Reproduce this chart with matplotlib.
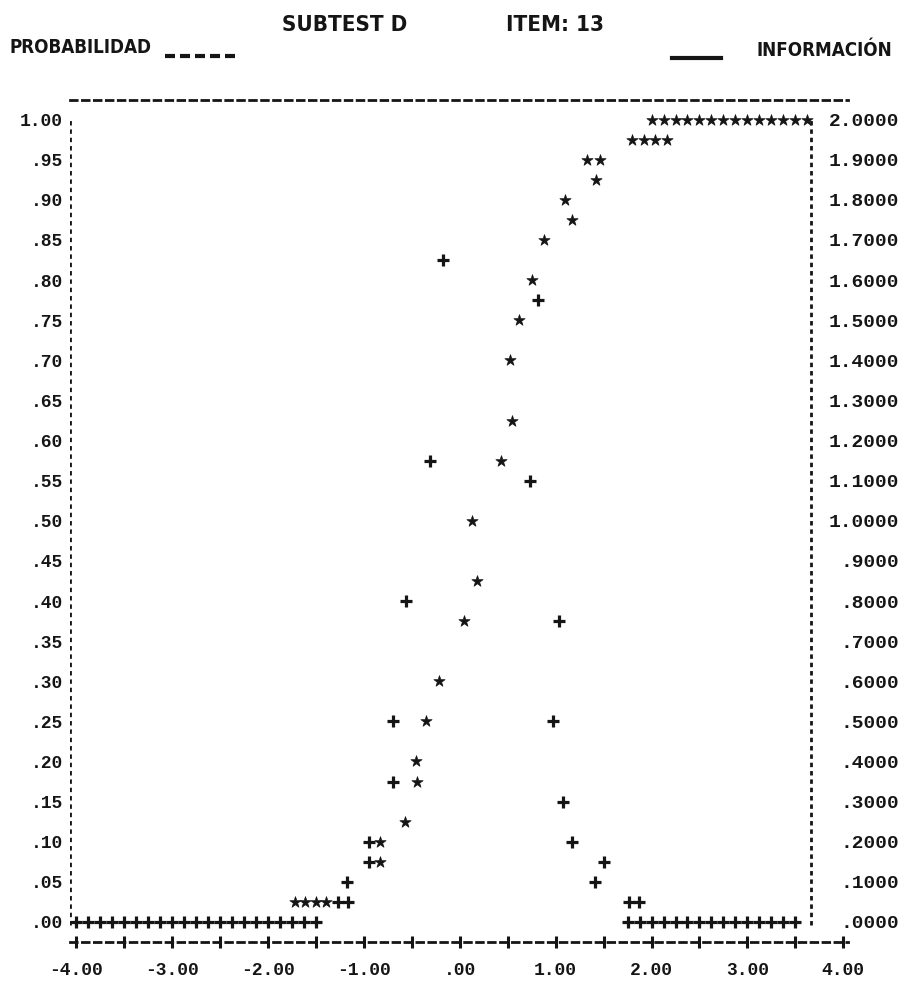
import matplotlib
matplotlib.use("Agg")
import matplotlib.pyplot as plt
from matplotlib.lines import Line2D
from matplotlib.ticker import FixedLocator, FixedFormatter

# ---------------- data ----------------
# Probability curve ('*'), left axis 0..1
prob_theta = [-1.72, -1.61, -1.50, -1.39, -0.83, -0.83, -0.57, -0.45, -0.46, -0.35,
              -0.22, 0.05, 0.18, 0.13, 0.43, 0.55, 0.52, 0.62, 0.75, 0.88,
              1.17, 1.10, 1.42, 1.33, 1.46, 1.80, 1.92, 2.04, 2.16,
              2.000, 2.125, 2.250, 2.375, 2.500, 2.625, 2.750, 2.875, 3.000,
              3.125, 3.250, 3.375, 3.500, 3.625]
prob_vals = [0.025, 0.025, 0.025, 0.025, 0.075, 0.100, 0.125, 0.175, 0.200, 0.250,
             0.300, 0.375, 0.425, 0.500, 0.575, 0.625, 0.700, 0.750, 0.800, 0.850,
             0.875, 0.900, 0.925, 0.950, 0.950, 0.975, 0.975, 0.975, 0.975,
             1.0, 1.0, 1.0, 1.0, 1.0, 1.0, 1.0, 1.0, 1.0,
             1.0, 1.0, 1.0, 1.0, 1.0]

# Information curve ('+'), right axis 0..2
info_theta = [-4.000, -3.875, -3.750, -3.625, -3.500, -3.375, -3.250, -3.125, -3.000,
              -2.875, -2.750, -2.625, -2.500, -2.375, -2.250, -2.125, -2.000, -1.875,
              -1.750, -1.625, -1.500,
              -1.27, -1.16, -1.17, -0.95, -0.95, -0.70, -0.70, -0.56, -0.31, -0.17,
              0.82, 0.73, 1.04, 0.97, 1.08, 1.17, 1.50, 1.41, 1.76, 1.87,
              1.750, 1.875, 2.000, 2.125, 2.250, 2.375, 2.500, 2.625, 2.750,
              2.875, 3.000, 3.125, 3.250, 3.375, 3.500]
info_vals = [0.0] * 21 + \
            [0.05, 0.05, 0.10, 0.15, 0.20, 0.35, 0.50, 0.80, 1.15, 1.65,
             1.55, 1.10, 0.75, 0.50, 0.30, 0.20, 0.15, 0.10, 0.05, 0.05] + \
            [0.0] * 15

x_ticks = [-4.0, -3.5, -3.0, -2.5, -2.0, -1.5, -1.0, -0.5, 0.0,
           0.5, 1.0, 1.5, 2.0, 2.5, 3.0, 3.5, 4.0]
x_labels = ["-4.00", "", "-3.00", "", "-2.00", "", "-1.00", "", ".00",
            "", "1.00", "", "2.00", "", "3.00", "", "4.00"]
left_ticks = [0.00, 0.05, 0.10, 0.15, 0.20, 0.25, 0.30, 0.35, 0.40, 0.45, 0.50,
              0.55, 0.60, 0.65, 0.70, 0.75, 0.80, 0.85, 0.90, 0.95, 1.00]
left_labels = [".00", ".05", ".10", ".15", ".20", ".25", ".30", ".35", ".40", ".45",
               ".50", ".55", ".60", ".65", ".70", ".75", ".80", ".85", ".90", ".95",
               "1.00"]
right_ticks = [0.0, 0.1, 0.2, 0.3, 0.4, 0.5, 0.6, 0.7, 0.8, 0.9, 1.0,
               1.1, 1.2, 1.3, 1.4, 1.5, 1.6, 1.7, 1.8, 1.9, 2.0]
right_labels = [".0000", ".1000", ".2000", ".3000", ".4000", ".5000", ".6000",
                ".7000", ".8000", ".9000", "1.0000", "1.1000", "1.2000", "1.3000",
                "1.4000", "1.5000", "1.6000", "1.7000", "1.8000", "1.9000", "2.0000"]

# ---------------- styling ----------------
INK = "#151515"
MONO = ["Liberation Mono", "DejaVu Sans Mono"]
HEAD = ["DejaVu Sans"]

fig = plt.figure(figsize=(9.08, 9.83), dpi=100)
fig.patch.set_facecolor("white")

ax = fig.add_axes([0.0771, 0.0417, 0.857, 0.857])
ax.set_xlim(-4.0625, 4.05)
ax.set_ylim(-0.025, 1.025)
ax.patch.set_alpha(0)

ax2 = ax.twinx()
ax2.set_ylim(-0.05, 2.05)
ax2.patch.set_alpha(0)

# marks
ax.scatter(prob_theta, prob_vals, marker="*", s=72, color=INK, linewidths=0.5,
           edgecolors=INK, zorder=3)
ax2.scatter(info_theta, info_vals, marker="+", s=70, color=INK, linewidths=2.3, zorder=3)

# frame: dashed top & bottom, dotted side borders
for side in ["left", "right"]:
    ax.spines[side].set_visible(False)
for side in ["left", "right", "top", "bottom"]:
    ax2.spines[side].set_visible(False)
for side in ["top", "bottom"]:
    ax.spines[side].set_linewidth(2.0)
    ax.spines[side].set_linestyle((0, (2.4, 1.9)))
    ax.spines[side].set_color(INK)

ax.axvline(-4.0625, ymin=0.02, ymax=0.978, color=INK, lw=2.0, ls=(0, (1.6, 1.4)))
ax.axvline(3.66, ymin=0.02, ymax=0.978, color=INK, lw=2.0, ls=(0, (1.6, 1.4)))

# x ticks
ax.xaxis.set_major_locator(FixedLocator(x_ticks))
ax.xaxis.set_major_formatter(FixedFormatter(x_labels))
ax.tick_params(axis="x", direction="inout", length=9, width=2.2, color=INK, pad=10,
               labelsize=13)
ax.tick_params(axis="x", top=False)

# left y labels
ax.yaxis.set_major_locator(FixedLocator(left_ticks))
ax.yaxis.set_major_formatter(FixedFormatter(left_labels))
ax.tick_params(axis="y", length=0, pad=5, labelsize=13)

# right y labels: right-justified field just right of the border
ax2.yaxis.set_major_locator(FixedLocator(right_ticks))
ax2.yaxis.set_major_formatter(FixedFormatter(right_labels))
ax2.tick_params(axis="y", length=0, pad=37, labelsize=14)

for lab in ax.get_xticklabels() + ax.get_yticklabels():
    lab.set_fontfamily(MONO)
    lab.set_fontweight("bold")
    lab.set_color(INK)
for lab in ax2.get_yticklabels():
    lab.set_fontfamily(MONO)
    lab.set_fontweight("bold")
    lab.set_color(INK)
    lab.set_horizontalalignment("right")

# header texts
hk = dict(family=HEAD, fontweight="bold", fontstretch="condensed", color=INK)
fig.text(0.379, 0.9746, "SUBTEST D", fontsize=16, ha="center", va="center", **hk)
fig.text(0.611, 0.9746, "ITEM: 13", fontsize=16, ha="center", va="center", **hk)
fig.text(0.011, 0.952, "PROBABILIDAD", fontsize=13.5, ha="left", va="center", **hk)
fig.text(0.983, 0.949, "INFORMACIÓN", fontsize=13.5, ha="right", va="center", **hk)

# legend samples (dashed = probabilidad, solid = informacion)
fig.add_artist(Line2D([0.1817, 0.2643], [0.943, 0.943], transform=fig.transFigure,
                      color=INK, lw=3, ls=(0, (2.4, 1.2))))
fig.add_artist(Line2D([0.740, 0.794], [0.941, 0.941], transform=fig.transFigure,
                      color=INK, lw=3))

fig.savefig("out.png", dpi=100, facecolor="white")
